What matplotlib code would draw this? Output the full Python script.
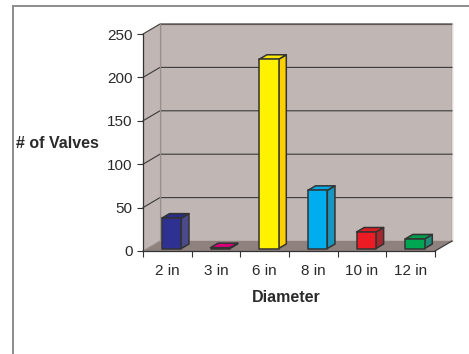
import matplotlib
matplotlib.use("Agg")
import matplotlib.pyplot as plt
from matplotlib.patches import Polygon
from matplotlib.lines import Line2D

# Data
categories = ["2 in", "3 in", "6 in", "8 in", "10 in", "12 in"]
valves = [35, 1, 218, 67, 19, 11]
front_colors = ["#2E3192", "#E6007E", "#FFF200", "#00AEEF", "#ED1C24", "#00A651"]
side_colors = ["#4A4A8C", "#B0006A", "#FFD000", "#1797BF", "#A8262D", "#1E8C76"]
top_colors = ["#2A2D88", "#D8007A", "#FFE800", "#00A8E6", "#E01B22", "#009E4C"]
yticks = [0, 50, 100, 150, 200, 250]

plt.rcParams["font.family"] = ["Liberation Sans", "DejaVu Sans"]

W, H, DPI = 469, 354, 100
fig = plt.figure(figsize=(W / DPI, H / DPI), dpi=DPI)
fig.patch.set_facecolor("white")

# plot area (front plane of the 3-D box)
x0, x1, yb, yt = 143, 435, 251, 34
ax = fig.add_axes([x0 / W, (H - yb) / H, (x1 - x0) / W, (yb - yt) / H])
n = len(categories)
ax.set_xlim(-0.5, n - 0.5)
ax.set_ylim(0, 250)
ax.set_facecolor("none")

# depth offset of the back wall, in data units
DX = 17 / (x1 - x0) * n
DY = 10 / (yb - yt) * 250


def P(x, y, f):
    return (x + f * DX, y + f * DY)


xl, xr, ymax = -0.5, n - 0.5, 250
wall = "#C0B6B3"
floor = "#8E817E"
grid = "#3a3a3a"

# back wall, side wall and floor
ax.add_patch(Polygon([P(xl, 0, 1), P(xr, 0, 1), P(xr, ymax, 1), P(xl, ymax, 1)],
                     closed=True, fc=wall, ec="#8a7f7c", lw=1.0, clip_on=False, zorder=0))
ax.add_line(Line2D([P(xr, 0, 1)[0] + 0.03] * 2, [P(xr, 0, 1)[1], P(xr, ymax, 1)[1]],
                   color="#f4f0ef", lw=1.2, clip_on=False, zorder=0.5))
ax.add_patch(Polygon([P(xl, 0, 0), P(xl, 0, 1), P(xl, ymax, 1), P(xl, ymax, 0)],
                     closed=True, fc=wall, ec="none", clip_on=False, zorder=0))
ax.add_patch(Polygon([P(xl, 0, 0), P(xr, 0, 0), P(xr, 0, 1), P(xl, 0, 1)],
                     closed=True, fc=floor, ec="none", clip_on=False, zorder=0.6))

# gridlines on side and back walls
for v in yticks[1:]:
    a, b, c = P(xl, v, 0), P(xl, v, 1), P(xr, v, 1)
    ax.add_line(Line2D([a[0], b[0], c[0]], [a[1], b[1], c[1]],
                       color=grid, lw=0.8, clip_on=False, zorder=1))
# inner wall corner and floor edges
a, b = P(xl, 0, 1), P(xl, ymax, 1)
ax.add_line(Line2D([a[0], b[0]], [a[1], b[1]], color="#9a8f8c", lw=0.8, clip_on=False, zorder=1))
a, b = P(xl, 0, 0), P(xl, 0, 1)
ax.add_line(Line2D([a[0], b[0]], [a[1], b[1]], color="#9a8f8c", lw=0.8, clip_on=False, zorder=1))
a, b = P(xr, 0, 0), P(xr, 0, 1)
ax.add_line(Line2D([a[0], b[0]], [a[1], b[1]], color=grid, lw=0.9, clip_on=False, zorder=1))

# 3-D columns
bw, f0, f1 = 0.40, 0.25, 0.70
for i, (v, fc, sc, tc) in enumerate(zip(valves, front_colors, side_colors, top_colors)):
    l, r = i - bw / 2, i + bw / 2
    kw = dict(closed=True, ec="#333333", lw=1.1, joinstyle="round", clip_on=False, zorder=3)
    ax.add_patch(Polygon([P(r, 0, f0), P(r, 0, f1), P(r, v, f1), P(r, v, f0)], fc=sc, **kw))
    ax.add_patch(Polygon([P(l, v, f0), P(r, v, f0), P(r, v, f1), P(l, v, f1)], fc=tc, **kw))
    ax.add_patch(Polygon([P(l, 0, f0), P(r, 0, f0), P(r, v, f0), P(l, v, f0)], fc=fc, **kw))

# axes: front edges with ticks
for s in ["top", "right"]:
    ax.spines[s].set_visible(False)
for s in ["left", "bottom"]:
    ax.spines[s].set_color("#333333")
    ax.spines[s].set_linewidth(0.9)
    ax.spines[s].set_zorder(4)
ax.set_yticks(yticks)
ax.set_yticklabels([str(t) for t in yticks])
ax.tick_params(axis="y", direction="out", length=4, width=0.8, color="#333333",
               labelsize=11, labelcolor="#2a2a2a", pad=3.5)
ax.set_xticks(range(n))
ax.set_xticklabels(categories)
ax.set_xticks([k - 0.5 for k in range(n + 1)], minor=True)
ax.tick_params(axis="x", which="major", length=0, labelsize=11, labelcolor="#2a2a2a", pad=9.5)
ax.tick_params(axis="x", which="minor", direction="out", length=4, width=0.8, color="#333333")

# titles
fig.text(16 / W, 1 - 143 / H, "# of Valves", fontsize=11.5, fontweight="bold",
         color="#2a2a2a", ha="left", va="center")
fig.text(286 / W, 1 - 298 / H, "Diameter", fontsize=11.5, fontweight="bold",
         color="#2a2a2a", ha="center", va="center")

# chart-area border
fig.add_artist(Line2D([13 / W, 13 / W], [0, 1 - 6 / H], color="#8c8c8c", lw=1.4))
fig.add_artist(Line2D([13 / W, 1], [1 - 6 / H, 1 - 6 / H], color="#8c8c8c", lw=1.4))

fig.savefig("out.png", dpi=DPI, facecolor="white")
